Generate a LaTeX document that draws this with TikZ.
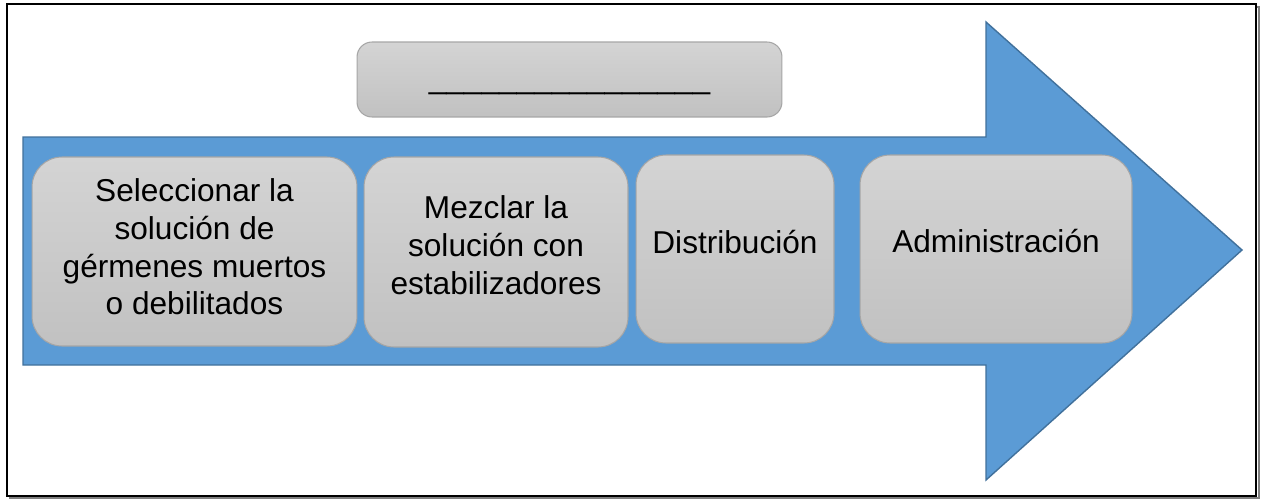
\documentclass[tikz,border=0pt]{standalone}
\usepackage{fontspec}
\setmainfont{Liberation Sans}

\definecolor{arrowblue}{HTML}{5B9BD5}
\definecolor{arrowedge}{HTML}{41719C}
\definecolor{boxtop}{HTML}{D4D4D4}
\definecolor{boxbot}{HTML}{C1C1C1}
\definecolor{boxedge}{HTML}{A6A6A6}

\begin{document}
\begin{tikzpicture}[x=0.02cm, y=-0.02cm, font=\fontsize{18}{21.5}\selectfont]
\tikzset{
  stepbox/.style={draw=boxedge, line width=0.6pt, top color=boxtop, bottom color=boxbot,
    rounded corners=0.6cm, inner sep=0pt},
  titlebox/.style={stepbox, rounded corners=0.3cm},
  steptext/.style={align=center, inner sep=0pt}
}

\useasboundingbox (0,0) rectangle (1261,498);

%\draw[step=50,color=gray!20] (0,0) grid (1261,498);

% frame with shadow
\draw[gray, line width=1.1pt] (10,7) rectangle (1259,498);
\draw[black, fill=white, line width=1.1pt] (7,4) rectangle (1256,496);

% big arrow
\draw[arrowedge, fill=arrowblue, line width=0.8pt]
  (23,137) -- (986,137) -- (986,22) -- (1242,250) -- (986,480) -- (986,365) -- (23,365) -- cycle;

% title box
\node[titlebox, minimum width=8.5cm, minimum height=1.5cm] (title) at (569.5,79.5) {};
\node[steptext] (title-t) at ([yshift=-0.24cm]title.center)
  {\_\_\_\_\_\_\_\_\_\_\_\_\_\_\_\_};

% steps
\node[stepbox, minimum width=6.5cm, minimum height=3.78cm] (select) at (194.5,251.5) {};
\node[steptext] (select-t) at ([yshift=0.09cm]select.center)
  {Seleccionar la\\solución de\\gérmenes muertos\\o debilitados};

\node[stepbox, minimum width=5.28cm, minimum height=3.8cm] (mix) at (496,252) {};
\node[steptext] (mix-t) at ([yshift=0.14cm]mix.center)
  {Mezclar la\\solución con\\estabilizadores};

\node[stepbox, minimum width=3.96cm, minimum height=3.76cm] (distr) at (735,249) {};
\node[steptext] (distr-t) at ([yshift=0.14cm]distr.center) {Distribución};

\node[stepbox, minimum width=5.44cm, minimum height=3.76cm] (admin) at (996,249) {};
\node[steptext] (admin-t) at ([yshift=0.16cm]admin.center) {Administración};

\end{tikzpicture}
\end{document}
